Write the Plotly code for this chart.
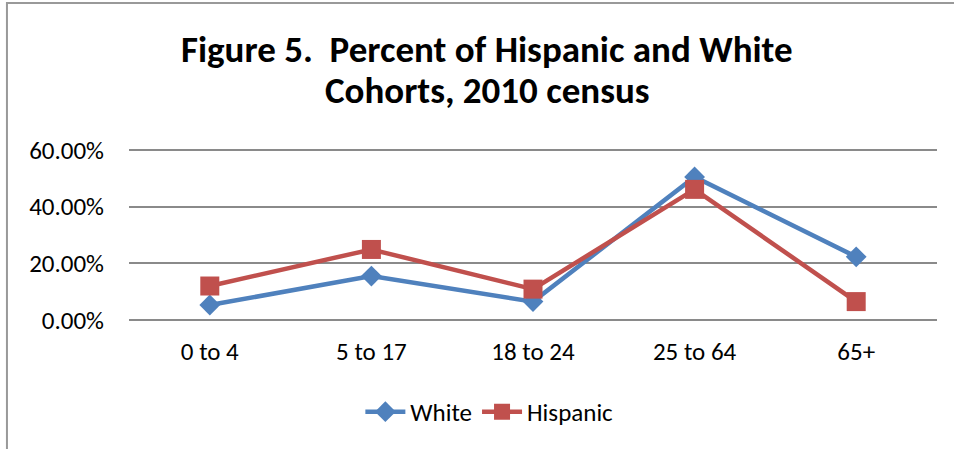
import plotly.graph_objects as go

categories = ["0 to 4", "5 to 17", "18 to 24", "25 to 64", "65+"]
white = [0.053, 0.155, 0.065, 0.505, 0.223]
hispanic = [0.120, 0.249, 0.109, 0.461, 0.065]
y_ticks = [0, 0.2, 0.4, 0.6]
y_tick_labels = ["0.00%", "20.00%", "40.00%", "60.00%"]
title_lines = ["Figure 5.  Percent of Hispanic and White", "Cohorts, 2010 census"]

FONT = "Carlito, Calibri, Lato, sans-serif"

fig = go.Figure()
fig.add_trace(go.Scatter(
    x=categories, y=white, name="White", mode="lines+markers",
    line=dict(color="#4F81BD", width=4.5),
    marker=dict(symbol="diamond", size=16, color="#4F81BD"),
))
fig.add_trace(go.Scatter(
    x=categories, y=hispanic, name="Hispanic", mode="lines+markers",
    line=dict(color="#C0504D", width=4.5),
    marker=dict(symbol="square", size=19, color="#C0504D"),
))

fig.update_layout(
    width=954, height=449,
    margin=dict(l=129, r=17, t=148, b=127),
    paper_bgcolor="white", plot_bgcolor="white",
    font=dict(family=FONT, size=25, color="black"),
    showlegend=True,
    legend=dict(orientation="h", x=0.446, xanchor="center", y=-0.517, yanchor="middle",
                font=dict(size=25), itemwidth=40, traceorder="normal"),
    xaxis=dict(type="category", range=[-0.5, 4.5], showgrid=False, showline=False,
               ticks="", tickfont=dict(size=25), ticklabelstandoff=12, fixedrange=True),
    yaxis=dict(range=[-0.007, 0.607], tickvals=y_ticks, ticktext=y_tick_labels,
               showgrid=True, gridcolor="#8a8a8a", gridwidth=1.5, zeroline=False,
               showline=False, ticks="", tickfont=dict(size=25), ticklabelstandoff=24),
)

fig.add_annotation(text="<b>%s</b>" % title_lines[0], xref="paper", yref="paper",
                   x=(487 - 129) / 807.7, y=(322 - 50) / 174, xanchor="center", yanchor="middle",
                   showarrow=False, font=dict(size=37, family=FONT))
fig.add_annotation(text="<b>%s</b>" % title_lines[1], xref="paper", yref="paper",
                   x=(487 - 129) / 807.7, y=(322 - 91) / 174, xanchor="center", yanchor="middle",
                   showarrow=False, font=dict(size=37, family=FONT))

# chart border (left and top edges visible)
fig.add_shape(type="rect", xref="paper", yref="paper",
              x0=(7 - 129) / 807.7, x1=(960 - 129) / 807.7,
              y0=(322 - 460) / 174, y1=(322 - 3) / 174,
              line=dict(color="#999999", width=2), layer="below")

fig.write_html("out.html")
